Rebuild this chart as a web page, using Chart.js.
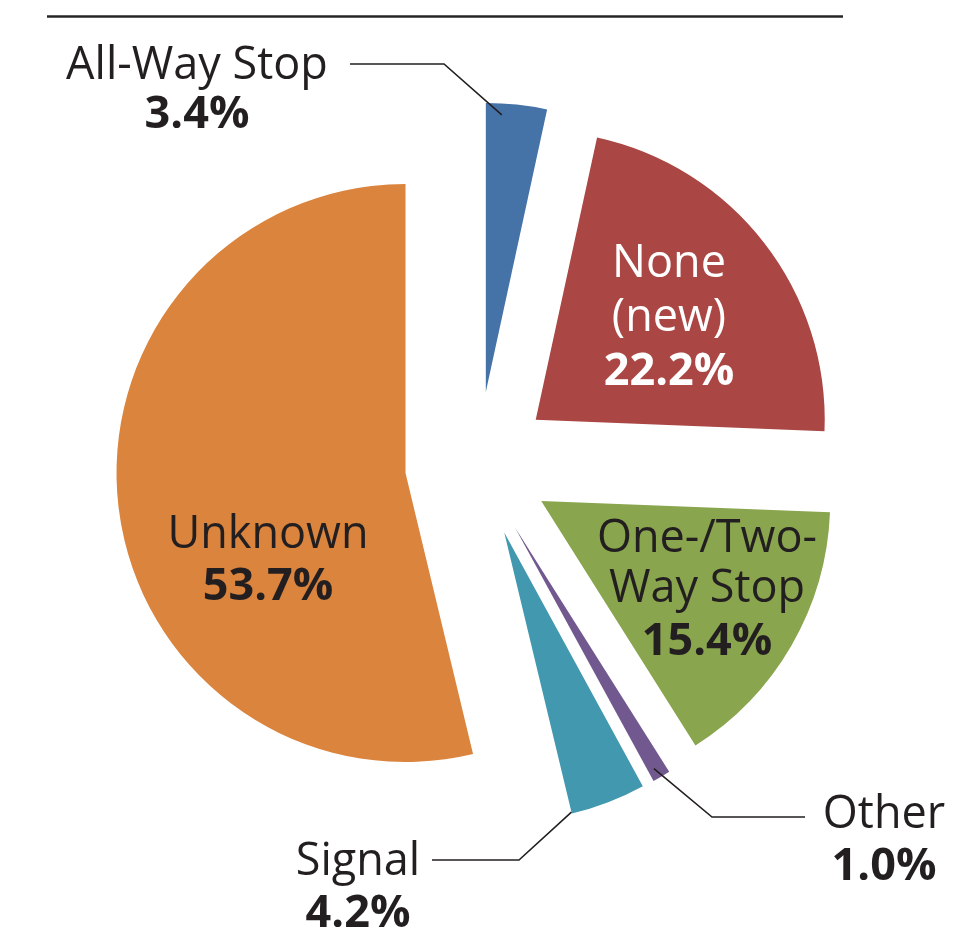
<!DOCTYPE html>
<html>
<head>
<meta charset="utf-8">
<script src="https://cdn.jsdelivr.net/npm/chart.js@4"></script>
<style>
  html, body { margin: 0; padding: 0; background: #ffffff; }
  #wrap { width: 962px; height: 952px; position: relative; }
</style>
</head>
<body>
<div id="wrap"><canvas id="c" width="962" height="952"></canvas></div>
<script>
// ---- data ----
const categories = ['All-Way Stop', 'None (new)', 'One-/Two-Way Stop', 'Other', 'Signal', 'Unknown'];
const shares = [3.4, 22.2, 15.4, 1.0, 4.2, 53.7];
const labelLines = [['All-Way Stop'], ['None', '(new)'], ['One-/Two-', 'Way Stop'], ['Other'], ['Signal'], ['Unknown']];

// ---- style / layout ----
const colors = ['#4572A7', '#AA4643', '#89A54E', '#71588F', '#4198AF', '#DB843D'];
const textColors = ['#231F20', '#FFFFFF', '#231F20', '#231F20', '#231F20', '#231F20'];
const explode = 73;        // px each slice is pulled out from the centre
const pieRadius = 289;
const FONT = '"Open Sans", "Noto Sans", sans-serif';
const FONT_SIZE = 45;
// label anchor: centre x and baseline of each text line (name lines, then value)
const labelLayout = [
  { x: 197, base: [79, 128] },
  { x: 669, base: [277, 331, 385] },
  { x: 707, base: [552, 602, 655] },
  { x: 884, base: [828, 880] },
  { x: 358, base: [875, 927] },
  { x: 268, base: [548, 600] }
];
// leader lines: point on slice given by (fraction of slice angle, fraction of radius), then bend points
const leaders = {
  0: { t: 0.27, k: 0.96, pts: [[444, 64], [350, 64]] },
  3: { t: 0.64, k: 0.963, pts: [[712, 817], [805, 817]] },
  4: { t: 1.0, k: 0.995, pts: [[519, 860], [432, 860]] }
};

function explodeArcs(chart) {
  const meta = chart.getDatasetMeta(0);
  const a = chart.chartArea;
  const cx = (a.left + a.right) / 2, cy = (a.top + a.bottom) / 2;
  meta.data.forEach((el) => {
    const mid = (el.startAngle + el.endAngle) / 2;
    el.x = cx + Math.cos(mid) * explode;
    el.y = cy + Math.sin(mid) * explode;
  });
}

const explodePlugin = {
  id: 'explode',
  afterDatasetsUpdate(chart) { explodeArcs(chart); },
  beforeDatasetsDraw(chart) { explodeArcs(chart); }
};

const labelPlugin = {
  id: 'labels',
  afterDraw(chart) {
    const ctx = chart.ctx;
    const meta = chart.getDatasetMeta(0);
    ctx.save();
    // top rule
    ctx.strokeStyle = '#262626';
    ctx.lineWidth = 2.5;
    ctx.beginPath();
    ctx.moveTo(47, 16.5);
    ctx.lineTo(843, 16.5);
    ctx.stroke();

    // leader lines
    ctx.strokeStyle = '#231F20';
    ctx.lineWidth = 1.6;
    Object.keys(leaders).forEach((key) => {
      const i = +key;
      const L = leaders[i];
      const el = meta.data[i];
      const ang = el.startAngle + L.t * (el.endAngle - el.startAngle);
      const px = el.x + Math.cos(ang) * el.outerRadius * L.k;
      const py = el.y + Math.sin(ang) * el.outerRadius * L.k;
      ctx.beginPath();
      ctx.moveTo(px, py);
      L.pts.forEach(p => ctx.lineTo(p[0], p[1]));
      ctx.stroke();
    });

    // labels
    ctx.textAlign = 'center';
    ctx.textBaseline = 'alphabetic';
    categories.forEach((cat, i) => {
      const lay = labelLayout[i];
      const lines = labelLines[i];
      ctx.fillStyle = textColors[i];
      ctx.font = '400 ' + FONT_SIZE + 'px ' + FONT;
      lines.forEach((ln, j) => ctx.fillText(ln, lay.x, lay.base[j]));
      ctx.font = '700 ' + FONT_SIZE + 'px ' + FONT;
      ctx.fillText(shares[i].toFixed(1) + '%', lay.x, lay.base[lines.length]);
    });
    ctx.restore();
  }
};

new Chart(document.getElementById('c'), {
  type: 'pie',
  data: {
    labels: categories,
    datasets: [{
      data: shares,
      backgroundColor: colors,
      borderWidth: 0,
      clip: false
    }]
  },
  options: {
    responsive: false,
    animation: false,
    events: [],
    radius: pieRadius,
    layout: { padding: { left: 0, right: 6, top: 0, bottom: 23 } },
    plugins: {
      legend: { display: false },
      title: { display: false },
      tooltip: { enabled: false }
    }
  },
  plugins: [explodePlugin, labelPlugin]
});
</script>
</body>
</html>
